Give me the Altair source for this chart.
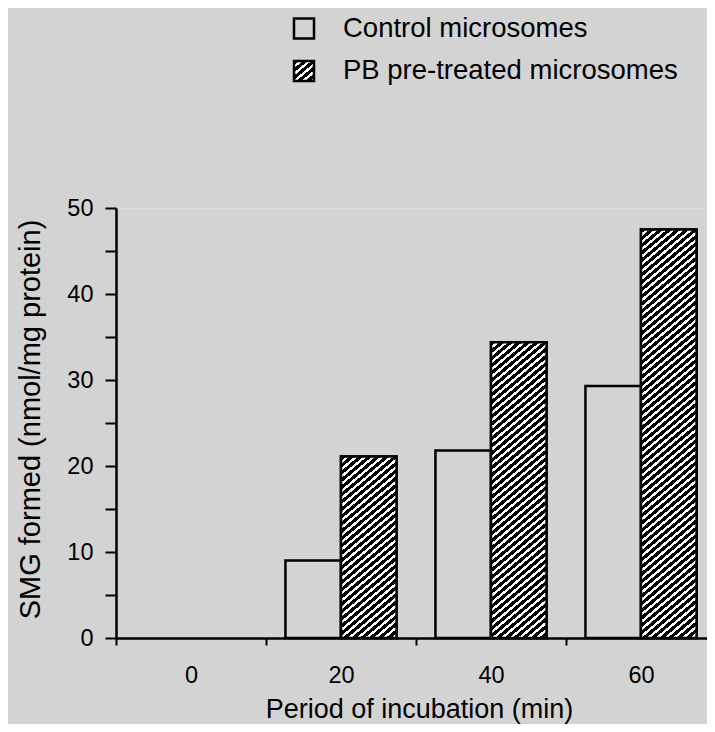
import math
import altair as alt
import pandas as pd

# ---- data ----
periods = ["0", "20", "40", "60"]
series = ["Control microsomes", "PB pre-treated microsomes"]
control = [0.0, 9.0, 21.8, 29.3]
pb = [0.0, 21.1, 34.4, 47.5]

rows = []
for p, c, b in zip(periods, control, pb):
    rows.append({"period": p, "series": series[0], "value": c})
    rows.append({"period": p, "series": series[1], "value": b})
df = pd.DataFrame(rows)
legend_df = pd.DataFrame({"series": series})

# ---- layout constants ----
X_RANGE = 600
PLOT_W = 591
PLOT_H = 430
YMAX = 50
PO = 0.35
BAR_W = (X_RANGE / len(periods)) / (2 + 2 * PO)
FONT = "Liberation Sans"
SYM = 20                      # legend symbol side (px)
LEG_SYM_X = 178               # legend symbol left, relative to plot origin
LEG_TXT_X = 227               # legend label left, relative to plot origin
LEG_ROW_Y = [-179.5, -137.0]  # legend row centres, relative to plot origin


def hatch(w, h, a=0.84, period=7.3, black=0.58):
    """Linear gradient with hard stops that renders as diagonal hatching."""
    span = a * w + h
    k = span / (a * a * w * w + h * h)
    n = int(math.ceil(span / period))
    stops = []
    for i in range(n):
        t0 = round(i * period / span, 5)
        t1 = round(min((i + black) * period / span, 1.0), 5)
        t2 = round(min((i + 1) * period / span, 1.0), 5)
        stops += [
            {"offset": t0, "color": "black"},
            {"offset": t1, "color": "black"},
            {"offset": t1, "color": "white"},
            {"offset": t2, "color": "white"},
        ]
    return {"gradient": "linear", "x1": 0, "y1": 0,
            "x2": round(a * w * k, 5), "y2": round(h * k, 5), "stops": stops}


x_enc = alt.X(
    "period:N", sort=periods,
    scale=alt.Scale(domain=periods, range=[0, X_RANGE], paddingInner=0, paddingOuter=0),
    axis=alt.Axis(
        title="Period of incubation (min)", titleFontSize=27, titleFontWeight="normal",
        titleX=303, titleY=79, titleAlign="center", titleBaseline="alphabetic",
        titleColor="black", titleFont=FONT,
        labelFontSize=23.5, labelAngle=0, labelPadding=18, labelColor="black", labelFont=FONT,
        tickBand="extent", tickSize=7, tickWidth=2, tickColor="black",
        domainColor="black", domainWidth=2.5, grid=False,
    ),
)
xo_enc = alt.XOffset("series:N", sort=series,
                     scale=alt.Scale(domain=series, paddingInner=0, paddingOuter=PO))
y_enc = alt.Y(
    "value:Q",
    scale=alt.Scale(domain=[0, YMAX], nice=False),
    axis=alt.Axis(
        title="SMG formed (nmol/mg protein)", titleFontSize=29, titleFontWeight="normal",
        titleX=-86, titleY=211, titleAngle=270, titleAlign="center", titleBaseline="middle",
        titleColor="black", titleFont=FONT,
        values=list(range(0, YMAX + 1, 5)),
        labelExpr="datum.value % 10 === 0 ? datum.label : ''",
        labelFontSize=23.5, labelPadding=12, labelColor="black", labelFont=FONT,
        tickSize=11, tickWidth=2, tickColor="black",
        domainColor="black", domainWidth=2.5, grid=False,
    ),
)

# ---- bars (zero values produce no visible bar) ----
base = alt.Chart(df).transform_filter(alt.datum.value > 0).mark_bar(
    stroke="black", strokeWidth=2.5
).encode(
    x=x_enc, xOffset=xo_enc, y=y_enc,
    fill=alt.Fill("series:N", sort=series,
                  scale=alt.Scale(domain=series, range=["transparent", "#333333"]),
                  legend=None),
)
layers = [base]
for p, v in zip(periods, pb):
    if v <= 0:
        continue
    h = v / YMAX * PLOT_H
    layers.append(
        alt.Chart(df)
        .transform_filter((alt.datum.period == p) & (alt.datum.series == series[1]))
        .mark_bar(fill=hatch(BAR_W, h), stroke="black", strokeWidth=2.5)
        .encode(x=x_enc, xOffset=xo_enc, y=y_enc)
    )

# ---- legend (drawn as marks so the hatched swatch matches the bars) ----
sym_fills = ["transparent", hatch(SYM, SYM)]
for name, fill, yc in zip(series, sym_fills, LEG_ROW_Y):
    one = alt.Chart(legend_df).transform_filter(alt.datum.series == name)
    layers.append(
        one.mark_rect(fill=fill, stroke="black", strokeWidth=2.5).encode(
            x=alt.value(LEG_SYM_X), x2=alt.value(LEG_SYM_X + SYM),
            y=alt.value(yc - SYM / 2), y2=alt.value(yc + SYM / 2),
        )
    )
    layers.append(
        one.mark_text(align="left", baseline="middle", fontSize=27.5, font=FONT,
                      color="black").encode(
            x=alt.value(LEG_TXT_X), y=alt.value(yc), text="series:N",
        )
    )

chart = alt.layer(*layers).properties(
    width=PLOT_W, height=PLOT_H,
    padding={"left": 108, "top": 200, "right": 0, "bottom": 86},
    autosize=alt.AutoSizeParams(type="none"),
    background="#d3d3d3",
).configure_view(stroke=None).configure(font=FONT)

chart.save("out.html", embed_options={"renderer": "svg", "actions": False})
